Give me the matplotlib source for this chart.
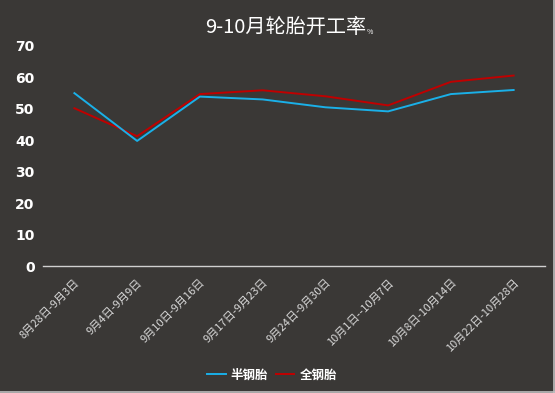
import matplotlib
matplotlib.use("Agg")
import matplotlib.pyplot as plt
from matplotlib.lines import Line2D

plt.rcParams['font.family'] = ['Noto Sans CJK SC', 'DejaVu Sans']

categories = ["8月28日-9月3日", "9月4日-9月9日", "9月10日-9月16日", "9月17日-9月23日",
              "9月24日-9月30日", "10月1日--10月7日", "10月8日-10月14日", "10月22日-10月28日"]
semi_steel = [55.0, 39.8, 53.9, 53.0, 50.5, 49.2, 54.7, 56.0]
all_steel = [50.2, 41.3, 54.7, 55.9, 54.0, 51.1, 58.6, 60.6]
yticks = [0, 10, 20, 30, 40, 50, 60, 70]

bg = '#3a3836'
fig = plt.figure(figsize=(5.55, 3.93), dpi=100, facecolor=bg)
ax = fig.add_axes([0.0775, 0.323, 0.9045, 0.56], facecolor=bg)

x = list(range(len(categories)))
ax.plot(x, semi_steel, color='#1ab0e8', lw=1.4, label='半钢胎', zorder=3)
ax.plot(x, all_steel, color='#c00000', lw=1.4, label='全钢胎', zorder=2)

ax.set_xlim(-0.5, len(categories) - 0.5)
ax.set_ylim(0, 70)
ax.set_yticks(yticks)
ax.set_yticklabels([str(v) for v in yticks], color='white', fontsize=10, fontweight='bold',
                   family=['DejaVu Sans'])
ax.tick_params(axis='y', length=0, pad=6)
ax.set_xticks(x)
ax.set_xticklabels(categories, rotation=45, ha='right', rotation_mode='anchor',
                   color='#d8d8d8', fontsize=8)
ax.tick_params(axis='x', length=0, pad=8)
for s in ['top', 'right', 'left']:
    ax.spines[s].set_visible(False)
ax.spines['bottom'].set_color('#d0d0d0')
ax.spines['bottom'].set_linewidth(1.0)

fig.text(0.515, 0.93, '9-10月轮胎开工率', color='white', fontsize=14.5, ha='center', va='center')
fig.text(0.66, 0.918, '%', color='white', fontsize=5, ha='left', va='center')

handles = [Line2D([], [], color='#1ab0e8', lw=1.4), Line2D([], [], color='#c00000', lw=1.4)]
leg = fig.legend(handles, ['半钢胎', '全钢胎'], loc='center', bbox_to_anchor=(0.49, 0.045),
                 ncol=2, frameon=False, fontsize=9, handlelength=1.5, handletextpad=0.4,
                 columnspacing=0.6)
for t in leg.get_texts():
    t.set_color('white')
    t.set_fontweight('bold')

fig.add_artist(Line2D([0.9975, 0.9975], [0, 1], transform=fig.transFigure, color='#bfbfbf', lw=1.2))
fig.add_artist(Line2D([0, 1], [0.002, 0.002], transform=fig.transFigure, color='#bfbfbf', lw=1.2))

fig.savefig('out.png', dpi=100, facecolor=bg)
